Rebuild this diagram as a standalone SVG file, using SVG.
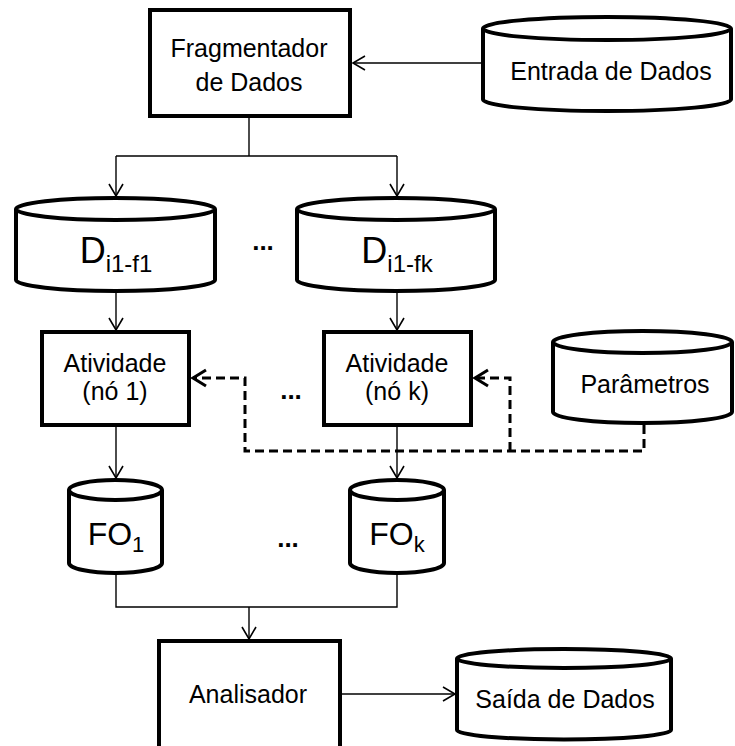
<svg xmlns="http://www.w3.org/2000/svg" width="735" height="746" viewBox="0 0 735 746">
  <style>
    .box { fill: #fff; stroke: #000; stroke-width: 4; }
    .cyl { fill: #fff; stroke: #000; stroke-width: 4; }
    .lbl { font-family: "Liberation Sans", Arial, sans-serif; font-size: 25px; fill: #000; text-anchor: middle; }
    .big { font-family: "Liberation Sans", Arial, sans-serif; font-size: 36px; fill: #000; text-anchor: middle; }
    .fo { font-family: "Liberation Sans", Arial, sans-serif; font-size: 32px; fill: #000; text-anchor: middle; }
    .dots { font-family: "Liberation Sans", Arial, sans-serif; font-size: 26px; font-weight: bold; fill: #000; text-anchor: middle; }
    .flow { fill: none; stroke: #000; stroke-width: 1.4; }
    .param { fill: none; stroke: #000; stroke-width: 3; stroke-dasharray: 9 5; }
  </style>
  <defs>
    <marker id="arr" markerUnits="userSpaceOnUse" markerWidth="30" markerHeight="30" viewBox="-15 -15 30 30" refX="0" refY="0" orient="auto">
      <path d="M-12,-7 L0,0 L-12,7" fill="none" stroke="#000" stroke-width="1.6"/>
    </marker>
    <marker id="arrThick" markerUnits="userSpaceOnUse" markerWidth="34" markerHeight="34" viewBox="-17 -17 34 34" refX="0" refY="0" orient="auto">
      <path d="M-13,-8 L0,0 L-13,8" fill="none" stroke="#000" stroke-width="3"/>
    </marker>
  </defs>

  <!-- connectors -->
  <g id="connectors">
    <path class="flow" d="M481,63 H353" marker-end="url(#arr)"/>
    <path class="flow" d="M249,118 V156"/>
    <path class="flow" d="M116,156 H397"/>
    <path class="flow" d="M116,156 V196" marker-end="url(#arr)"/>
    <path class="flow" d="M397,156 V196" marker-end="url(#arr)"/>
    <path class="flow" d="M116,293 V330" marker-end="url(#arr)"/>
    <path class="flow" d="M397,293 V330" marker-end="url(#arr)"/>
    <path class="flow" d="M116,427 V478" marker-end="url(#arr)"/>
    <path class="flow" d="M397,427 V478" marker-end="url(#arr)"/>
    <path class="flow" d="M116,575 V607 H397 V575"/>
    <path class="flow" d="M249,607 V639" marker-end="url(#arr)"/>
    <path class="flow" d="M342,694 H455" marker-end="url(#arr)"/>
    <path class="param" d="M644,425 V451 H245 V378 H193" marker-end="url(#arrThick)"/>
    <path class="param" d="M510,451 V378 H475" marker-end="url(#arrThick)"/>
  </g>

  <!-- Fragmentador de Dados -->
  <g id="fragmentador">
    <rect class="box" x="150" y="10" width="200" height="106"/>
    <text class="lbl" x="249" y="57">Fragmentador</text>
    <text class="lbl" x="249" y="91">de Dados</text>
  </g>

  <!-- Entrada de Dados -->
  <g id="entrada">
    <path class="cyl" d="M483,28.5 V99.5 A124,11.5 0 0 0 731,99.5 V28.5"/>
    <ellipse class="cyl" cx="607" cy="28.5" rx="124" ry="11.5"/>
    <text class="lbl" x="611" y="80">Entrada de Dados</text>
  </g>

  <!-- D i1-f1 -->
  <g id="d1">
    <path class="cyl" d="M16,209 V280 A99.5,11 0 0 0 215,280 V209"/>
    <ellipse class="cyl" cx="115.5" cy="209" rx="99.5" ry="11"/>
    <text class="big" x="116" y="263">D<tspan font-size="24" dy="9">i1-f1</tspan></text>
  </g>

  <!-- D i1-fk -->
  <g id="dk">
    <path class="cyl" d="M297,209 V280 A99,11 0 0 0 495,280 V209"/>
    <ellipse class="cyl" cx="396" cy="209" rx="99" ry="11"/>
    <text class="big" x="397" y="263">D<tspan font-size="24" dy="9">i1-fk</tspan></text>
  </g>

  <text class="dots" x="263" y="250">...</text>

  <!-- Atividade (nó 1) -->
  <g id="atividade1">
    <rect class="box" x="42" y="332" width="147" height="93"/>
    <text class="lbl" x="115" y="372">Atividade</text>
    <text class="lbl" x="115" y="400">(nó 1)</text>
  </g>

  <!-- Atividade (nó k) -->
  <g id="atividadek">
    <rect class="box" x="324" y="332" width="147" height="93"/>
    <text class="lbl" x="397" y="372">Atividade</text>
    <text class="lbl" x="397" y="400">(nó k)</text>
  </g>

  <text class="dots" x="291" y="399">...</text>

  <!-- Parâmetros -->
  <g id="parametros">
    <path class="cyl" d="M553,342 V412 A89.5,11 0 0 0 732,412 V342"/>
    <ellipse class="cyl" cx="642.5" cy="342" rx="89.5" ry="11"/>
    <text class="lbl" x="645" y="393">Parâmetros</text>
  </g>

  <!-- FO1 -->
  <g id="fo1">
    <path class="cyl" d="M69,490 V563 A46.5,10 0 0 0 162,563 V490"/>
    <ellipse class="cyl" cx="115.5" cy="490" rx="46.5" ry="10"/>
    <text class="fo" x="116" y="545">FO<tspan font-size="22" dy="7">1</tspan></text>
  </g>

  <!-- FOk -->
  <g id="fok">
    <path class="cyl" d="M350,490 V563 A47,10 0 0 0 444,563 V490"/>
    <ellipse class="cyl" cx="397" cy="490" rx="47" ry="10"/>
    <text class="fo" x="397" y="545">FO<tspan font-size="22" dy="7">k</tspan></text>
  </g>

  <text class="dots" x="288" y="547">...</text>

  <!-- Analisador -->
  <g id="analisador">
    <rect class="box" x="159" y="641" width="181" height="120"/>
    <text class="lbl" x="248" y="703">Analisador</text>
  </g>

  <!-- Saída de Dados -->
  <g id="saida">
    <path class="cyl" d="M457,658.5 V730 A107,9.5 0 0 0 671,730 V658.5"/>
    <ellipse class="cyl" cx="564" cy="658.5" rx="107" ry="9.5"/>
    <text class="lbl" x="565" y="708">Saída de Dados</text>
  </g>
</svg>
